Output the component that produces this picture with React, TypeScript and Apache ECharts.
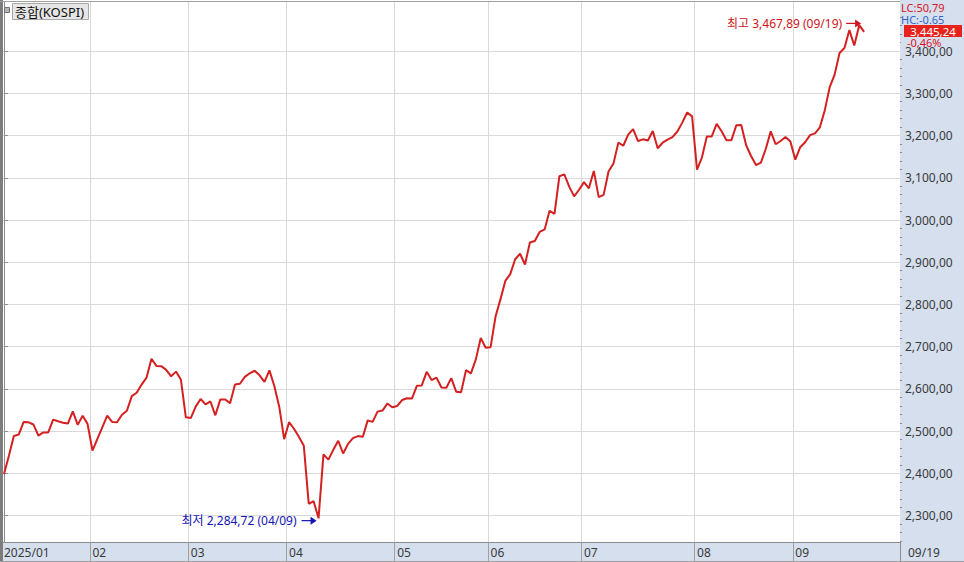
import React, { useEffect, useRef } from 'react';
import * as echarts from 'echarts';

const dates = [
  '01/02','01/03','01/06','01/07','01/08','01/09','01/10','01/13','01/14','01/15','01/16','01/17','01/20','01/21','01/22','01/23','01/24','01/31',
  '02/03','02/04','02/05','02/06','02/07','02/10','02/11','02/12','02/13','02/14','02/17','02/18','02/19','02/20','02/21','02/24','02/25','02/26','02/27','02/28',
  '03/04','03/05','03/06','03/07','03/10','03/11','03/12','03/13','03/14','03/17','03/18','03/19','03/20','03/21','03/24','03/25','03/26','03/27','03/28','03/31',
  '04/01','04/02','04/03','04/04','04/07','04/08','04/09','04/10','04/11','04/14','04/15','04/16','04/17','04/18','04/21','04/22','04/23','04/24','04/25','04/28','04/29','04/30',
  '05/02','05/07','05/08','05/09','05/12','05/13','05/14','05/15','05/16','05/19','05/20','05/21','05/22','05/23','05/26','05/27','05/28','05/29','05/30',
  '06/02','06/04','06/05','06/09','06/10','06/11','06/12','06/13','06/16','06/17','06/18','06/19','06/20','06/23','06/24','06/25','06/26','06/27','06/30',
  '07/01','07/02','07/03','07/04','07/07','07/08','07/09','07/10','07/11','07/14','07/15','07/16','07/17','07/18','07/21','07/22','07/23','07/24','07/25','07/28','07/29','07/30','07/31',
  '08/01','08/04','08/05','08/06','08/07','08/08','08/11','08/12','08/13','08/14','08/18','08/19','08/20','08/21','08/22','08/25','08/26','08/27','08/28','08/29',
  '09/01','09/02','09/03','09/04','09/05','09/08','09/09','09/10','09/11','09/12','09/15','09/16','09/17','09/18','09/19',
];

const closes = [
  2398.94, 2441.92, 2488.64, 2492.10, 2521.90, 2521.05, 2515.78, 2489.56, 2497.22, 2497.00, 2527.49, 2523.55, 2520.05, 2518.03, 2547.06, 2515.00, 2536.80, 2517.37,
  2453.95, 2481.69, 2509.27, 2536.75, 2521.92, 2521.27, 2539.05, 2548.39, 2583.17, 2591.05, 2610.42, 2626.81, 2671.52, 2654.58, 2654.06, 2645.27, 2630.00, 2641.09, 2621.75, 2532.78,
  2531.00, 2558.13, 2576.16, 2563.48, 2570.39, 2537.60, 2574.82, 2575.00, 2566.36, 2610.69, 2612.34, 2628.62, 2637.10, 2643.13, 2632.22, 2616.80, 2643.94, 2607.15, 2557.98, 2481.12,
  2521.39, 2505.86, 2486.70, 2465.42, 2328.20, 2334.23, 2293.70, 2445.06, 2432.72, 2455.89, 2477.41, 2447.21, 2470.00, 2483.42, 2488.42, 2486.64, 2525.56, 2522.03, 2546.30, 2548.85, 2565.42, 2556.61,
  2559.79, 2573.80, 2578.00, 2577.27, 2607.33, 2608.42, 2640.57, 2621.00, 2626.87, 2603.42, 2603.00, 2625.58, 2593.67, 2592.09, 2644.40, 2637.00, 2670.00, 2720.64, 2697.67,
  2698.97, 2770.84, 2812.05, 2855.77, 2871.85, 2907.04, 2920.03, 2894.62, 2946.66, 2950.30, 2972.00, 2977.74, 3021.84, 3014.47, 3103.64, 3108.00, 3079.00, 3055.94, 3071.70,
  3089.65, 3075.00, 3116.27, 3054.28, 3059.47, 3114.95, 3133.74, 3183.23, 3175.77, 3202.03, 3215.28, 3187.00, 3191.00, 3188.07, 3210.81, 3169.94, 3183.00, 3190.45, 3196.05, 3209.52, 3230.57, 3254.47, 3245.44,
  3119.41, 3147.75, 3198.00, 3198.00, 3227.68, 3210.01, 3189.00, 3189.00, 3224.37, 3225.00, 3177.00, 3151.56, 3130.09, 3136.00, 3168.73, 3209.86, 3179.36, 3187.00, 3196.32, 3186.01,
  3142.93, 3172.35, 3184.00, 3200.83, 3205.12, 3219.59, 3260.05, 3314.53, 3344.20, 3395.54, 3407.31, 3449.62, 3413.00, 3461.30, 3445.24,
];

const yTicks = [2300, 2400, 2500, 2600, 2700, 2800, 2900, 3000, 3100, 3200, 3300, 3400];
const monthLabels = ['2025/01', '02', '03', '04', '05', '06', '07', '08', '09'];
const highMark = { date: '09/19', value: 3467.89 };
const lowMark = { date: '04/09', value: 2284.72 };
const legendName = '종합(KOSPI)';
const lcText = 'LC:50,79';
const hcText = 'HC:-0.65';
const pctText = '-0,46%';

const FONT = "'Noto Sans', 'Noto Sans CJK KR', sans-serif";
const BG = '#d5dfee';
const LINE = '#d42020';

function fmt(v: number): string {
  const [i, d] = v.toFixed(2).split('.');
  return i.replace(/\B(?=(\d{3})+(?!\d))/g, ',') + ',' + d;
}

const monthStarts: number[] = dates
  .map((d, i) => (i === 0 || d.slice(0, 2) !== dates[i - 1].slice(0, 2) ? i : -1))
  .filter((i) => i >= 0);
const boundaries = monthStarts.slice(1).map((i) => i - 0.5);

const Y_MIN = 2236.5;
const Y_MAX = 3518.5;
const minorTicks: number[] = [];
for (let v = yTicks[0] - 60; v < Y_MAX; v += 20) {
  if (v % 100 !== 0 && v > Y_MIN) minorTicks.push(v);
}

export default function App() {
  const ref = useRef<HTMLDivElement>(null);
  useEffect(() => {
    const chart = echarts.init(ref.current!, null, { renderer: 'svg' });
    const option: any = {
      animation: false,
      backgroundColor: BG,
      grid: { left: 3, right: 64, top: 1, bottom: 19.5, show: true, backgroundColor: '#ffffff', borderWidth: 0 },
      xAxis: {
        type: 'value',
        min: -0.2035,
        max: 182.3,
        axisLine: { show: true, onZero: false, lineStyle: { color: '#8c8c8c', width: 1 } },
        axisTick: { show: true, customValues: boundaries, length: 20, inside: false, lineStyle: { color: '#a0a0a0' } },
        axisLabel: {
          customValues: monthStarts,
          formatter: (v: number) => monthLabels[monthStarts.indexOf(v)] ?? '',
          align: 'left',
          margin: 4,
          color: '#3a3a3a',
          fontSize: 12,
          fontFamily: FONT,
        },
        splitLine: { show: true, lineStyle: { color: '#d9d9d9', width: 1 } },
      },
      yAxis: [
        {
          type: 'value',
          position: 'right',
          min: Y_MIN,
          max: Y_MAX,
          axisLine: { show: true, lineStyle: { color: '#8c8c8c', width: 1 } },
          axisTick: { show: true, customValues: yTicks, length: 4, lineStyle: { color: '#8c8c8c' } },
          axisLabel: {
            customValues: yTicks,
            formatter: (v: number) => fmt(v),
            margin: 5,
            color: '#3a3a3a',
            fontSize: 12,
            lineHeight: 11,
            fontFamily: FONT,
          },
          splitLine: { show: true, lineStyle: { color: '#d9d9d9', width: 1 } },
        },
        {
          type: 'value',
          position: 'right',
          min: Y_MIN,
          max: Y_MAX,
          axisLine: { show: false },
          axisTick: { show: true, customValues: minorTicks, length: 2, lineStyle: { color: '#8c8c8c' } },
          axisLabel: { show: false },
          splitLine: { show: false },
        },
      ],
      series: [
        {
          type: 'line',
          yAxisIndex: 0,
          data: closes.map((v, i) => [i, v]),
          showSymbol: false,
          symbol: 'none',
          lineStyle: { color: LINE, width: 2 },
          z: 5,
        },
      ],
    };
    chart.setOption(option);

    const hi = chart.convertToPixel({ seriesIndex: 0 }, [dates.indexOf(highMark.date), highMark.value]) as number[];
    const lo = chart.convertToPixel({ seriesIndex: 0 }, [dates.indexOf(lowMark.date), lowMark.value]) as number[];

    const arrow = (tx: number, ty: number, color: string, id: string) => [
      { type: 'line', id: id + 'l', z: 100, shape: { x1: tx - 15, y1: ty, x2: tx - 3, y2: ty }, style: { stroke: color, lineWidth: 1.2 } },
      { type: 'polygon', id: id + 'p', z: 100, shape: { points: [[tx - 6, ty - 4], [tx, ty], [tx - 6, ty + 4]] }, style: { fill: color } },
    ];

    const hx = hi[0] - 3, hy = hi[1] + 1;
    const lx = lo[0] - 2, ly = lo[1] - 1.5;

    const txt = (id: string, x: number, y: number, text: string, fill: string, align = 'left', size = 12) => ({
      type: 'text', id, z: 110, x, y,
      style: { text, fill, font: `${size}px ${FONT}`, lineHeight: 10, align, verticalAlign: 'middle' },
    });

    chart.setOption({
      graphic: [
        { type: 'rect', id: 'leftbar', z: 100, shape: { x: 0, y: 0, width: 3, height: 562 }, style: { fill: '#7d7d7d' } },
        { type: 'rect', id: 'topwhite', z: 100, shape: { x: 3, y: 0, width: 897, height: 1 }, style: { fill: '#ffffff' } },
        { type: 'line', id: 'topline', z: 100, shape: { x1: 0, y1: 1.5, x2: 900, y2: 1.5 }, style: { stroke: '#a0a0a0', lineWidth: 1 } },
        { type: 'line', id: 'botline', z: 100, shape: { x1: 0, y1: 561.5, x2: 964, y2: 561.5 }, style: { stroke: '#a0a0a0', lineWidth: 1 } },
        { type: 'line', id: 'vsep', z: 100, shape: { x1: 900.5, y1: 542, x2: 900.5, y2: 562 }, style: { stroke: '#8c8c8c', lineWidth: 1 } },
        { type: 'rect', id: 'legicon', z: 100, shape: { x: 4.5, y: 7.5, width: 5, height: 5 }, style: { fill: '#b4b4b4', stroke: '#707070', lineWidth: 1 } },
        { type: 'rect', id: 'legbox', z: 100, shape: { x: 12.5, y: 3.5, width: 76, height: 16 }, style: { fill: '#e6e6e6', stroke: '#a8a8a8', lineWidth: 1 } },
        txt('legtext', 15, 11.5, legendName, '#111111', 'left', 13),
        txt('lc', 901, 7.5, lcText, '#d8141e', 'left', 11),
        txt('hc', 901, 19, hcText, '#2f63c8', 'left', 11),
        { type: 'rect', id: 'pricebox', z: 100, shape: { x: 904, y: 25, width: 58, height: 12 }, style: { fill: '#e8231b' } },
        txt('price', 933, 31, fmt(closes[closes.length - 1]), '#ffffff', 'center', 11.5),
        { type: 'rect', id: 'pctbg', z: 100, shape: { x: 901, y: 37, width: 63, height: 10 }, style: { fill: BG } },
        txt('pct', 907, 42.5, pctText, '#d8141e', 'left', 11),
        txt('lastdate', 908, 552, dates[dates.length - 1], '#3a3a3a'),
        txt('hitext', hx - 19, hy, `최고 ${fmt(highMark.value)} (${highMark.date})`, '#d01420', 'right'),
        ...arrow(hx, hy, '#d01420', 'ha'),
        txt('lotext', lx - 20, ly, `최저 ${fmt(lowMark.value)} (${lowMark.date})`, '#1414b4', 'right'),
        ...arrow(lx, ly, '#1414b4', 'la'),
      ],
    });

    return () => chart.dispose();
  }, []);

  return <div ref={ref} style={{ position: 'fixed', left: 0, top: 0, width: 964, height: 562 }} />;
}
